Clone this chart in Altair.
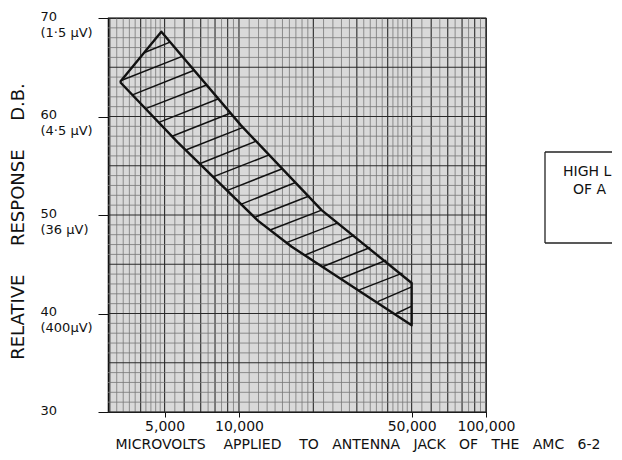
import altair as alt
import pandas as pd

# ---- data ----
# outline of the hatched band (x in microvolts, y in dB), clockwise, closed
band_x = [3300, 4850, 10190, 21600, 50000, 50000, 16300, 11960, 5640, 3300]
band_db = [63.5, 68.6, 59.1, 50.5, 43.1, 38.8, 46.8, 49.4, 57.4, 63.5]

# hatch strokes inside the band: start (lower/left edge) and end (upper edge)
hatch_x1 = [4150, 3335, 3705, 4190, 4740, 5360, 6090, 6930, 7890, 8985,
            10230, 11650, 13450, 15570, 18340, 21780, 25860, 30710, 36440, 43290]
hatch_db1 = [66.5, 63.65, 62.2, 60.8, 59.4, 58.0, 56.6, 55.2, 53.9, 52.5,
             51.1, 49.8, 48.5, 47.2, 45.9, 44.75, 43.55, 42.4, 41.2, 40.0]
hatch_x2 = [5260, 5890, 6590, 7390, 8270, 9270, 10390, 11730, 13250, 14980,
            16930, 19120, 21610, 25120, 29220, 33960, 39470, 45920, 50000, 50000]
hatch_db2 = [67.55, 66.1, 64.7, 63.2, 61.8, 60.35, 58.9, 57.5, 56.1, 54.7,
             53.3, 51.9, 50.5, 49.2, 47.95, 46.7, 45.4, 44.1, 42.7, 40.75]

x_tick_values = [5000, 10000, 50000, 100000]
y_tick_values = [30, 40, 50, 60, 70]
y_sub_labels = {70: "(1·5 µV)", 60: "(4·5 µV)", 50: "(36 µV)", 40: "(400µV)"}

# graph-paper rulings
v_major = [3000, 4000, 5000, 6000, 7000, 8000, 9000, 10000, 20000, 30000,
           40000, 50000, 60000, 70000, 80000, 90000, 100000]
v_minor = ([v for v in range(3000, 5000, 200)] + [v for v in range(5000, 10000, 500)]
           + [v for v in range(10000, 20000, 1000)] + [v for v in range(20000, 50000, 2000)]
           + [v for v in range(50000, 100000, 5000)])
v_minor = [v for v in v_minor if v not in v_major]
h_major = [30, 35, 40, 45, 50, 55, 60, 65, 70]
h_minor = [v for v in range(30, 71) if v not in h_major]

NB = "\u00a0"
x_words = ["MICROVOLTS", "APPLIED", "TO", "ANTENNA", "JACK", "OF", "THE", "AMC", "6-2"]
x_title = (NB * 4).join(x_words[:3]) + NB * 3 + (NB * 3).join(x_words[3:])
y_title = (NB * 5).join(["RELATIVE", "RESPONSE", "D.B."])
box_lines = ["HIGH L", "OF A"]

FONT = "DejaVu Sans"
W, H = 378, 394

xscale = alt.Scale(type="log", domain=[2950, 100000])
yscale = alt.Scale(domain=[30, 70])

label_expr_y = " : ".join(
    [f"datum.value == {k} ? ['{k}', '{v}']" for k, v in y_sub_labels.items()]
) + " : datum.label"

xaxis = alt.Axis(
    values=x_tick_values, labelExpr="format(datum.value, ',')", grid=False,
    title=x_title, titleFont=FONT, titleFontSize=14, titleFontWeight="normal",
    titleColor="#111", titleAnchor="start", titleAlign="left", titleX=7,
    titleY=32, titleBaseline="middle", labelFont=FONT, labelFontSize=14,
    labelColor="#111", tickSize=5, tickColor="#111", domainColor="#111",
    labelPadding=2, labelFlush=False, labelOverlap=False,
)
yaxis = alt.Axis(
    values=y_tick_values, labelExpr=label_expr_y, grid=False,
    title=y_title, titleFont=FONT, titleFontSize=18, titleFontWeight="normal",
    titleColor="#111", titleX=-90, titleY=203, titleAngle=270,
    titleAlign="center", titleBaseline="middle",
    labelFont=FONT, labelFontSize=13, labelColor="#111", labelAlign="left",
    labelBaseline="top", labelOffset=-8, labelLineHeight=16, labelPadding=58,
    tickSize=10, tickColor="#111", domainColor="#111", labelFlush=False,
    labelOverlap=False,
)

vmin = alt.Chart(pd.DataFrame({"x": v_minor})).mark_rule(
    color="#777", strokeWidth=0.8).encode(x=alt.X("x:Q", scale=xscale, axis=xaxis))
vmaj = alt.Chart(pd.DataFrame({"x": v_major})).mark_rule(
    color="#2a2a2a", strokeWidth=1.1).encode(x=alt.X("x:Q", scale=xscale, axis=xaxis))
hmin = alt.Chart(pd.DataFrame({"db": h_minor})).mark_rule(
    color="#777", strokeWidth=0.8).encode(y=alt.Y("db:Q", scale=yscale, axis=yaxis))
hmaj = alt.Chart(pd.DataFrame({"db": h_major})).mark_rule(
    color="#2a2a2a", strokeWidth=1.1).encode(y=alt.Y("db:Q", scale=yscale, axis=yaxis))

hatch_df = pd.DataFrame({"x": hatch_x1, "db": hatch_db1, "x2": hatch_x2, "db2": hatch_db2})
hatch = alt.Chart(hatch_df).mark_rule(color="#111", strokeWidth=1.5).encode(
    x=alt.X("x:Q", scale=xscale, axis=xaxis),
    y=alt.Y("db:Q", scale=yscale, axis=yaxis),
    x2="x2:Q", y2="db2:Q",
)

band_df = pd.DataFrame({"x": band_x, "db": band_db, "i": list(range(len(band_x)))})
band = alt.Chart(band_df).mark_line(color="#111", strokeWidth=2.4, strokeJoin="round").encode(
    x=alt.X("x:Q", scale=xscale, axis=xaxis),
    y=alt.Y("db:Q", scale=yscale, axis=yaxis),
    order="i:Q",
)

one = pd.DataFrame({"a": [0]})
box_style = dict(color="#222", strokeWidth=1.3)
box_top = alt.Chart(one).mark_rule(**box_style).encode(
    x=alt.value(437), x2=alt.value(504), y=alt.value(134))
box_bottom = alt.Chart(one).mark_rule(**box_style).encode(
    x=alt.value(437), x2=alt.value(504), y=alt.value(225))
box_left = alt.Chart(one).mark_rule(**box_style).encode(
    x=alt.value(437), y=alt.value(134), y2=alt.value(225))
box_t1 = alt.Chart(one).mark_text(font=FONT, fontSize=14, align="left", baseline="middle",
                                  color="#111").encode(
    x=alt.value(455), y=alt.value(154), text=alt.value(box_lines[0]))
box_t2 = alt.Chart(one).mark_text(font=FONT, fontSize=14, align="left", baseline="middle",
                                  color="#111").encode(
    x=alt.value(465), y=alt.value(172), text=alt.value(box_lines[1]))

chart = alt.layer(vmin, vmaj, hmin, hmaj, hatch, band, box_top, box_bottom, box_left,
                  box_t1, box_t2).properties(
    width=W, height=H,
    autosize=alt.AutoSizeParams(type="none"),
    padding={"left": 100, "top": 10, "right": 128, "bottom": 40},
    background="white",
).configure_view(fill="#d9d9d9", stroke="#222", strokeWidth=1.2)

chart.save("out.html", embed_options={"renderer": "svg", "actions": False})
